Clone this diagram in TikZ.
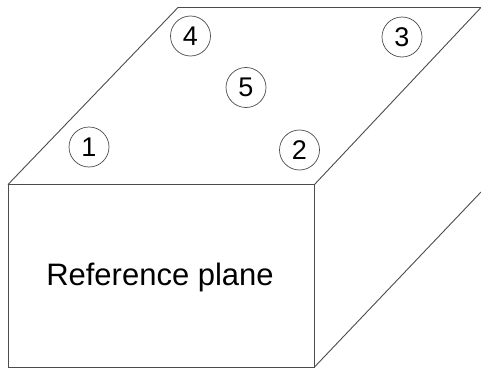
\documentclass[tikz,border=0pt]{standalone}
\usepackage{fontspec}
\setmainfont{Liberation Sans}
\usepackage{tikz}
\tikzset{x=1pt,y=-1pt}
\begin{document}
\begin{tikzpicture}[
    pointmark/.style={circle, draw=black!70, line width=0.7pt, minimum size=40pt, inner sep=0pt, font=\fontsize{27}{27}\selectfont},
    edgeline/.style={draw=black!70, line width=0.9pt},
]
\useasboundingbox (0,0) rectangle (481,369);
\fill[white] (0,0) rectangle (481,369);
% box corners
\coordinate (frontTL) at (8,184.5);
\coordinate (frontTR) at (314.5,184.5);
\coordinate (frontBR) at (314.5,367);
\coordinate (frontBL) at (8,367);
\coordinate (backTL) at (178,7.5);
\coordinate (backTR) at (481,7.5);
\coordinate (backBR) at (481,192);
\draw[edgeline] (frontTL) -- (frontTR) -- (frontBR) -- (frontBL) -- cycle;
\draw[edgeline] (frontTL) -- (backTL) -- (backTR);
\draw[edgeline] (frontTR) -- (backTR);
\draw[edgeline] (frontBR) -- (backBR);
% marks on the top face
\node[pointmark] (mark1) at (89,147) {1};
\node[pointmark] (mark2) at (299.5,150) {2};
\node[pointmark] (mark3) at (402,37) {3};
\node[pointmark] (mark4) at (190.5,36) {4};
\node[pointmark] (mark5) at (246,87.5) {5};
\node[font=\fontsize{31}{31}\selectfont] (planelabel) at (160,277) {Reference plane};
\end{tikzpicture}
\end{document}
